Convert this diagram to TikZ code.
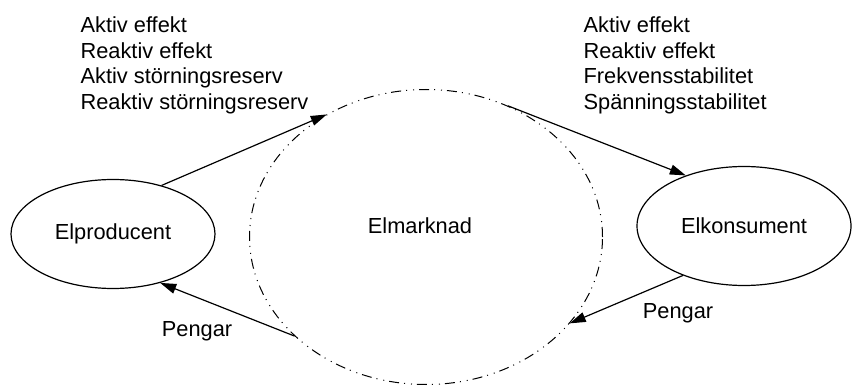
\documentclass[tikz,border=0pt]{standalone}
\usepackage{fontspec}
\setmainfont{Liberation Sans}
\usetikzlibrary{arrows.meta}
\usetikzlibrary{shapes.geometric}

\begin{document}
\begin{tikzpicture}[->,>={Triangle[length=16pt,width=10pt]},x=1pt,y=-1pt,
  line width=1.2pt,every node/.style={font=\fontsize{21.8}{25.8}\selectfont},
  actor node/.style={ellipse,draw,inner sep=0pt},
  market node/.style={ellipse,draw,inner sep=0pt,line width=1pt,
    dash pattern=on 10pt off 5pt on 1pt off 6pt on 1pt off 5pt}]
  \useasboundingbox (0,0) rectangle (853,387);

  \node[actor node,minimum width=204pt,minimum height=109pt] (prod) at (113,234) {Elproducent};
  \node[market node,minimum width=353pt,minimum height=295pt] (mkt) at (426,237) {};
  \node[actor node,minimum width=214pt,minimum height=119pt] (cons) at (744,226) {Elkonsument};
  \node[] (mkttext) at (420,226) {Elmarknad};

  \node[anchor=north west,inner sep=0pt,align=left] (prodflow) at (80,16)
    {Aktiv effekt\\Reaktiv effekt\\Aktiv störningsreserv\\Reaktiv störningsreserv};
  \node[anchor=north west,inner sep=0pt,align=left] (consflow) at (583,16)
    {Aktiv effekt\\Reaktiv effekt\\Frekvensstabilitet\\Spänningsstabilitet};
  \node[anchor=base,inner sep=0pt] (prodpay) at (197,336) {Pengar};
  \node[anchor=base,inner sep=0pt] (conspay) at (678,318) {Pengar};

  \draw (prod.45.5) -- (mkt.129.2);
  \draw (mkt.58.5) -- (cons.139.7);
  \draw (mkt.217.1) -- (prod.314.3);
  \draw (cons.219.7) -- (mkt.329.2);
\end{tikzpicture}
\end{document}
